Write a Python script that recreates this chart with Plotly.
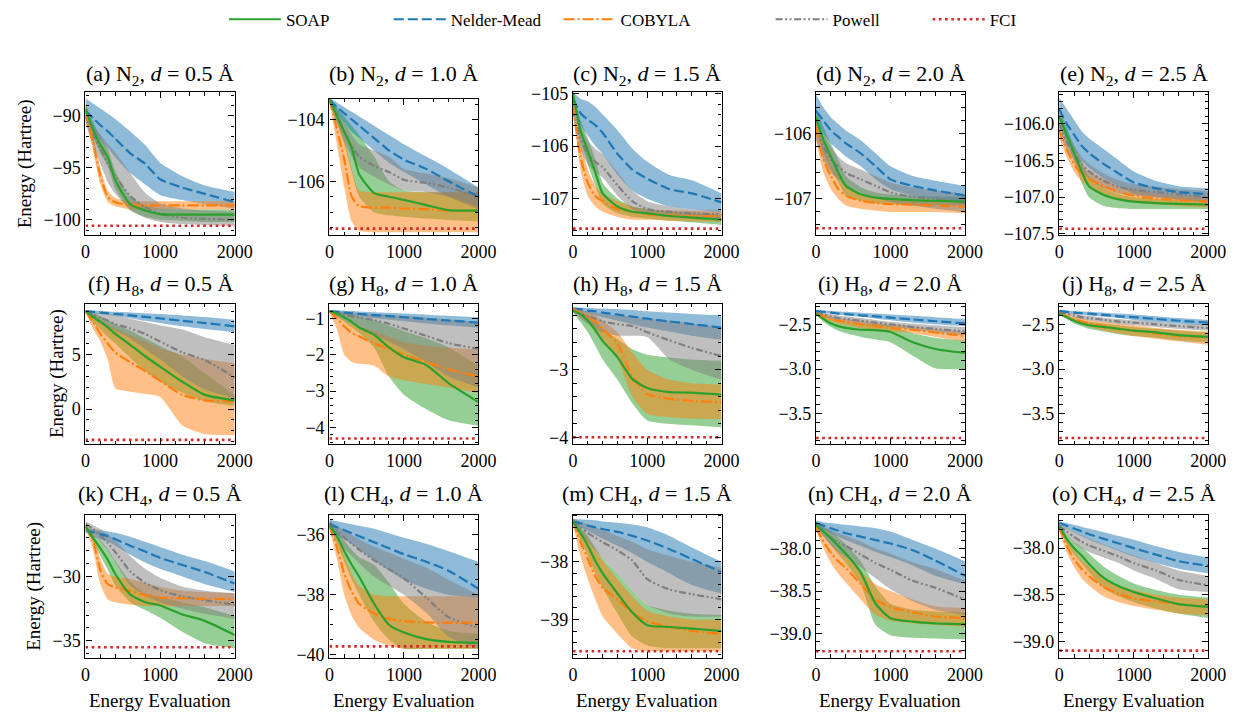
import plotly.graph_objects as go

# ---------------- data ----------------
X = [0, 100, 200, 300, 400, 600, 800, 1000, 1300, 1600, 2000]
XTICKS = [0, 1000, 2000]
METHODS = ["SOAP", "Nelder-Mead", "COBYLA", "Powell"]
LETTERS = list("abcdefghijklmno")
MOLECULES = ["N<sub>2</sub>"] * 5 + ["H<sub>8</sub>"] * 5 + ["CH<sub>4</sub>"] * 5
DISTANCES = ["0.5", "1.0", "1.5", "2.0", "2.5"] * 3

FCI = [-100.57, -107.53, -107.57, -107.45, -107.43,
       -2.83, -4.3, -3.995, -3.77, -3.77,
       -35.51, -39.72, -39.55, -39.21, -39.1]
YLO = [-101.5, -107.75, -107.7, -107.56, -107.52,
       -3.24, -4.46, -4.1, -3.84, -3.84,
       -36.35, -40.11, -39.67, -39.29, -39.18]
YHI = [-87.7, -103.33, -104.97, -105.36, -105.57,
       9.67, -0.6, -2.03, -2.27, -2.27,
       -25.18, -35.33, -37.18, -37.6, -37.64]
YSTEP = [5, 2, 1, 1, 0.5, 5, 1, 1, 0.5, 0.5, 5, 2, 1, 0.5, 0.5]

# (a) N2 0.5
A_SOAP = [-89.3, -91.3, -92.8, -94.0, -96.2, -98.5, -99.1, -99.45, -99.5, -99.5, -99.5]
A_SOAP_HI = [-88.8, -90.6, -92.0, -93.2, -95.3, -97.8, -98.6, -98.9, -99.0, -99.0, -99.0]
A_SOAP_LO = [-89.8, -92.0, -93.6, -94.9, -97.0, -99.1, -99.7, -100.0, -100.1, -100.2, -100.2]
A_NM = [-89.5, -90.2, -90.9, -91.5, -92.2, -93.6, -94.6, -96.1, -96.9, -97.5, -98.3]
A_NM_HI = [-88.3, -88.8, -89.3, -89.8, -90.3, -91.5, -92.8, -94.5, -95.8, -96.7, -97.3]
A_NM_LO = [-90.6, -91.4, -92.3, -93.1, -94.0, -95.5, -96.6, -97.6, -98.1, -98.5, -98.9]
A_COB = [-89.5, -92.5, -95.8, -97.8, -98.3, -98.6, -98.6, -98.6, -98.6, -98.6, -98.6]
A_COB_HI = [-88.7, -91.7, -95.0, -97.2, -97.9, -98.2, -98.2, -98.2, -98.2, -98.2, -98.2]
A_COB_LO = [-90.3, -93.3, -96.6, -98.3, -98.7, -99.0, -99.0, -99.0, -99.0, -99.0, -99.0]
A_POW = [-90.0, -91.8, -93.2, -94.6, -95.8, -97.7, -98.8, -99.4, -99.8, -99.9, -100.0]
A_POW_HI = [-89.3, -90.8, -91.8, -92.7, -93.5, -95.5, -97.4, -98.4, -98.9, -99.1, -99.2]
A_POW_LO = [-90.7, -92.8, -94.6, -96.4, -97.5, -99.0, -99.8, -100.2, -100.4, -100.5, -100.6]

# (b) N2 1.0
B_SOAP = [-103.35, -103.87, -104.4, -104.93, -105.77, -106.38, -106.5, -106.6, -106.77, -106.93, -106.95]
B_SOAP_HI = [-103.3, -103.6, -103.9, -104.2, -104.5, -105.2, -106.0, -106.3, -106.35, -106.35, -106.35]
B_SOAP_LO = [-103.4, -104.1, -104.8, -105.7, -106.5, -107.0, -107.1, -107.15, -107.2, -107.25, -107.3]
B_NM = [-103.35, -103.6, -103.8, -104.0, -104.2, -104.6, -105.0, -105.3, -105.6, -106.0, -106.5]
B_NM_HI = [-103.3, -103.45, -103.6, -103.75, -103.9, -104.2, -104.5, -104.8, -105.2, -105.6, -106.2]
B_NM_LO = [-103.45, -103.8, -104.1, -104.4, -104.6, -105.0, -105.4, -105.7, -106.1, -106.5, -106.9]
B_COB = [-103.35, -104.3, -105.3, -106.5, -106.8, -106.85, -106.85, -106.88, -106.9, -106.95, -106.97]
B_COB_HI = [-103.3, -103.9, -104.6, -105.6, -106.3, -106.35, -106.35, -106.35, -106.35, -106.35, -106.35]
B_COB_LO = [-103.4, -104.8, -106.2, -107.3, -107.6, -107.65, -107.65, -107.65, -107.65, -107.65, -107.65]
B_POW = [-103.4, -103.9, -104.4, -104.85, -105.2, -105.5, -105.7, -105.95, -106.05, -106.2, -106.5]
B_POW_HI = [-103.35, -103.7, -104.1, -104.5, -104.8, -105.0, -105.2, -105.6, -105.75, -105.9, -106.2]
B_POW_LO = [-103.45, -104.1, -104.7, -105.2, -105.55, -105.85, -106.1, -106.3, -106.35, -106.5, -106.8]

# (c) N2 1.5
C_SOAP = [-105.0, -105.7, -106.1, -106.5, -106.9, -107.15, -107.25, -107.28, -107.33, -107.36, -107.4]
C_SOAP_HI = [-104.98, -105.5, -105.85, -106.25, -106.7, -107.0, -107.15, -107.2, -107.25, -107.28, -107.3]
C_SOAP_LO = [-105.05, -105.9, -106.35, -106.75, -107.1, -107.28, -107.35, -107.38, -107.42, -107.45, -107.5]
C_NM = [-105.1, -105.37, -105.5, -105.6, -105.75, -106.15, -106.45, -106.62, -106.82, -106.9, -107.07]
C_NM_HI = [-104.97, -105.1, -105.15, -105.25, -105.4, -105.7, -106.05, -106.3, -106.55, -106.65, -106.9]
C_NM_LO = [-105.25, -105.6, -105.8, -106.0, -106.15, -106.55, -106.85, -107.0, -107.15, -107.2, -107.25]
C_COB = [-105.2, -106.2, -106.7, -106.95, -107.05, -107.2, -107.25, -107.3, -107.32, -107.33, -107.33]
C_COB_HI = [-105.1, -105.9, -106.45, -106.75, -106.9, -107.05, -107.15, -107.2, -107.22, -107.23, -107.25]
C_COB_LO = [-105.3, -106.45, -106.95, -107.15, -107.25, -107.35, -107.4, -107.4, -107.42, -107.43, -107.44]
C_POW = [-105.3, -105.85, -106.15, -106.3, -106.4, -106.75, -107.05, -107.2, -107.25, -107.28, -107.3]
C_POW_HI = [-105.1, -105.6, -105.9, -106.05, -106.15, -106.5, -106.85, -107.05, -107.15, -107.2, -107.22]
C_POW_LO = [-105.45, -106.05, -106.35, -106.5, -106.6, -106.95, -107.2, -107.3, -107.35, -107.38, -107.4]

# (d) N2 2.0
D_SOAP = [-105.75, -106.1, -106.35, -106.6, -106.8, -106.93, -106.98, -107.0, -107.02, -107.03, -107.04]
D_SOAP_HI = [-105.6, -105.9, -106.15, -106.4, -106.65, -106.82, -106.9, -106.93, -106.95, -106.96, -106.97]
D_SOAP_LO = [-105.9, -106.3, -106.55, -106.75, -106.95, -107.03, -107.07, -107.08, -107.1, -107.1, -107.1]
D_NM = [-105.65, -105.8, -105.95, -106.05, -106.15, -106.3, -106.5, -106.7, -106.8, -106.87, -106.95]
D_NM_HI = [-105.4, -105.6, -105.75, -105.85, -105.95, -106.1, -106.3, -106.5, -106.65, -106.72, -106.8]
D_NM_LO = [-105.85, -106.0, -106.15, -106.25, -106.35, -106.5, -106.7, -106.85, -106.95, -107.0, -107.08]
D_COB = [-105.9, -106.4, -106.65, -106.85, -106.95, -107.03, -107.06, -107.08, -107.09, -107.1, -107.12]
D_COB_HI = [-105.7, -106.2, -106.45, -106.65, -106.8, -106.92, -106.98, -107.0, -107.02, -107.03, -107.05]
D_COB_LO = [-106.1, -106.6, -106.85, -107.0, -107.1, -107.15, -107.18, -107.2, -107.2, -107.2, -107.22]
D_POW = [-105.95, -106.2, -106.4, -106.5, -106.6, -106.7, -106.8, -106.9, -106.97, -107.0, -107.05]
D_POW_HI = [-105.8, -106.0, -106.2, -106.35, -106.45, -106.55, -106.65, -106.75, -106.83, -106.87, -106.92]
D_POW_LO = [-106.1, -106.4, -106.6, -106.7, -106.8, -106.9, -106.98, -107.05, -107.1, -107.15, -107.2]

# (e) N2 2.5
E_SOAP = [-105.9, -106.15, -106.4, -106.65, -106.85, -106.97, -107.03, -107.06, -107.08, -107.09, -107.1]
E_SOAP_HI = [-105.8, -106.05, -106.3, -106.5, -106.72, -106.88, -106.96, -107.0, -107.02, -107.03, -107.04]
E_SOAP_LO = [-106.0, -106.25, -106.5, -106.8, -107.0, -107.12, -107.15, -107.16, -107.16, -107.16, -107.16]
E_NM = [-105.8, -106.0, -106.15, -106.3, -106.4, -106.55, -106.68, -106.8, -106.88, -106.93, -106.96]
E_NM_HI = [-105.65, -105.8, -105.95, -106.1, -106.2, -106.35, -106.5, -106.65, -106.78, -106.85, -106.88]
E_NM_LO = [-105.95, -106.2, -106.35, -106.5, -106.6, -106.75, -106.85, -106.95, -107.0, -107.03, -107.05]
E_COB = [-106.1, -106.35, -106.55, -106.68, -106.75, -106.85, -106.93, -106.98, -107.02, -107.04, -107.06]
E_COB_HI = [-106.0, -106.25, -106.45, -106.58, -106.65, -106.75, -106.85, -106.9, -106.95, -106.98, -107.0]
E_COB_LO = [-106.2, -106.45, -106.65, -106.78, -106.85, -106.95, -107.02, -107.07, -107.1, -107.12, -107.14]
E_POW = [-106.0, -106.25, -106.4, -106.55, -106.65, -106.78, -106.86, -106.9, -106.93, -106.96, -107.0]
E_POW_HI = [-105.9, -106.15, -106.3, -106.45, -106.55, -106.68, -106.77, -106.82, -106.86, -106.89, -106.92]
E_POW_LO = [-106.1, -106.35, -106.5, -106.65, -106.75, -106.88, -106.95, -106.98, -107.0, -107.03, -107.06]

# (f) H8 0.5
F_SOAP = [9.0, 8.46, 8.0, 7.5, 6.9, 5.9, 4.85, 3.9, 2.5, 1.3, 0.8]
F_SOAP_HI = [9.1, 8.8, 8.5, 8.2, 7.8, 7.2, 6.5, 5.8, 4.8, 3.3, 1.3]
F_SOAP_LO = [8.9, 8.0, 7.3, 6.6, 6.0, 4.7, 3.5, 2.5, 1.5, 0.7, 0.3]
F_NM = [9.0, 8.93, 8.86, 8.8, 8.73, 8.6, 8.46, 8.32, 8.1, 7.9, 7.6]
F_NM_HI = [9.1, 9.05, 9.0, 8.97, 8.93, 8.87, 8.8, 8.72, 8.6, 8.45, 8.2]
F_NM_LO = [8.9, 8.8, 8.72, 8.63, 8.55, 8.35, 8.1, 7.9, 7.6, 7.35, 7.05]
F_COB = [9.0, 8.0, 6.9, 6.0, 5.2, 4.3, 3.5, 2.6, 1.3, 0.8, 0.7]
F_COB_HI = [9.1, 8.7, 8.2, 7.8, 7.4, 6.8, 6.2, 5.6, 5.0, 4.6, 4.2]
F_COB_LO = [8.9, 7.4, 6.2, 4.5, 1.9, 1.6, 1.4, 1.1, -1.5, -2.3, -2.4]
F_POW = [8.9, 8.7, 8.4, 8.1, 7.8, 7.4, 6.9, 6.2, 5.2, 4.5, 2.9]
F_POW_HI = [9.0, 8.9, 8.8, 8.7, 8.6, 8.3, 8.0, 7.7, 7.3, 6.6, 5.9]
F_POW_LO = [8.8, 8.4, 8.0, 7.6, 7.2, 6.5, 5.5, 4.6, 3.0, 1.8, 1.0]

# (g) H8 1.0
G_SOAP = [-0.8, -0.87, -0.97, -1.1, -1.25, -1.45, -1.8, -2.07, -2.28, -2.78, -3.3]
G_SOAP_HI = [-0.78, -0.82, -0.86, -0.9, -0.95, -1.05, -1.2, -1.35, -1.55, -1.8, -2.3]
G_SOAP_LO = [-0.82, -0.95, -1.1, -1.25, -1.4, -1.8, -2.6, -3.1, -3.5, -3.8, -3.95]
G_NM = [-0.8, -0.82, -0.84, -0.86, -0.88, -0.91, -0.94, -0.97, -1.02, -1.06, -1.12]
G_NM_HI = [-0.77, -0.78, -0.79, -0.8, -0.81, -0.83, -0.85, -0.87, -0.9, -0.93, -0.97]
G_NM_LO = [-0.83, -0.86, -0.89, -0.92, -0.95, -1.0, -1.04, -1.08, -1.14, -1.19, -1.26]
G_COB = [-0.8, -1.0, -1.22, -1.4, -1.5, -1.68, -1.85, -2.0, -2.2, -2.4, -2.6]
G_COB_HI = [-0.78, -0.9, -1.05, -1.15, -1.22, -1.35, -1.5, -1.65, -1.75, -1.8, -1.85]
G_COB_LO = [-0.82, -1.3, -2.0, -2.2, -2.25, -2.3, -2.6, -2.7, -2.8, -2.9, -3.05]
G_POW = [-0.8, -0.85, -0.9, -0.94, -0.98, -1.05, -1.15, -1.28, -1.48, -1.68, -1.84]
G_POW_HI = [-0.78, -0.8, -0.82, -0.84, -0.86, -0.88, -0.9, -0.93, -0.98, -1.03, -1.1]
G_POW_LO = [-0.82, -0.95, -1.05, -1.15, -1.25, -1.45, -1.65, -1.85, -2.2, -2.6, -2.9]

# (h) H8 1.5
H_SOAP = [-2.13, -2.18, -2.28, -2.42, -2.58, -2.82, -3.14, -3.27, -3.33, -3.34, -3.37]
H_SOAP_HI = [-2.1, -2.14, -2.2, -2.28, -2.4, -2.55, -2.7, -2.78, -2.82, -2.85, -2.87]
H_SOAP_LO = [-2.16, -2.3, -2.45, -2.65, -2.85, -3.15, -3.5, -3.75, -3.8, -3.82, -3.85]
H_NM = [-2.1, -2.11, -2.13, -2.14, -2.16, -2.19, -2.22, -2.25, -2.29, -2.33, -2.38]
H_NM_HI = [-2.08, -2.085, -2.09, -2.1, -2.1, -2.11, -2.12, -2.14, -2.16, -2.18, -2.2]
H_NM_LO = [-2.12, -2.14, -2.17, -2.2, -2.23, -2.28, -2.33, -2.38, -2.44, -2.5, -2.56]
H_COB = [-2.1, -2.17, -2.23, -2.29, -2.4, -2.62, -3.1, -3.36, -3.43, -3.46, -3.48]
H_COB_HI = [-2.08, -2.12, -2.16, -2.2, -2.28, -2.45, -2.75, -3.0, -3.15, -3.2, -3.22]
H_COB_LO = [-2.12, -2.22, -2.3, -2.4, -2.55, -2.85, -3.4, -3.65, -3.7, -3.72, -3.73]
H_POW = [-2.13, -2.17, -2.21, -2.25, -2.29, -2.33, -2.36, -2.45, -2.57, -2.68, -2.8]
H_POW_HI = [-2.1, -2.12, -2.14, -2.16, -2.18, -2.2, -2.22, -2.25, -2.28, -2.32, -2.38]
H_POW_LO = [-2.16, -2.25, -2.33, -2.4, -2.45, -2.5, -2.5, -2.52, -2.85, -3.0, -3.15]

# (i) H8 2.0
I_SOAP = [-2.38, -2.44, -2.49, -2.52, -2.54, -2.56, -2.565, -2.585, -2.7, -2.775, -2.82]
I_SOAP_HI = [-2.37, -2.4, -2.43, -2.45, -2.47, -2.49, -2.5, -2.52, -2.6, -2.65, -2.68]
I_SOAP_LO = [-2.39, -2.47, -2.53, -2.57, -2.6, -2.64, -2.67, -2.7, -2.85, -2.99, -3.0]
I_NM = [-2.35, -2.36, -2.37, -2.38, -2.385, -2.4, -2.41, -2.425, -2.445, -2.465, -2.49]
I_NM_HI = [-2.34, -2.345, -2.35, -2.355, -2.36, -2.37, -2.38, -2.39, -2.405, -2.42, -2.44]
I_NM_LO = [-2.36, -2.37, -2.38, -2.39, -2.4, -2.415, -2.435, -2.455, -2.48, -2.5, -2.52]
I_COB = [-2.38, -2.41, -2.44, -2.46, -2.47, -2.5, -2.52, -2.54, -2.56, -2.59, -2.63]
I_COB_HI = [-2.37, -2.39, -2.41, -2.43, -2.44, -2.46, -2.48, -2.5, -2.52, -2.55, -2.58]
I_COB_LO = [-2.39, -2.43, -2.47, -2.49, -2.51, -2.54, -2.56, -2.58, -2.6, -2.64, -2.69]
I_POW = [-2.37, -2.39, -2.41, -2.43, -2.44, -2.46, -2.48, -2.5, -2.53, -2.55, -2.58]
I_POW_HI = [-2.36, -2.37, -2.385, -2.4, -2.41, -2.43, -2.45, -2.47, -2.49, -2.51, -2.53]
I_POW_LO = [-2.38, -2.41, -2.435, -2.455, -2.47, -2.49, -2.51, -2.53, -2.56, -2.59, -2.62]

# (j) H8 2.5
J_SOAP = [-2.38, -2.42, -2.46, -2.49, -2.51, -2.53, -2.55, -2.57, -2.59, -2.62, -2.64]
J_SOAP_HI = [-2.37, -2.4, -2.43, -2.45, -2.47, -2.49, -2.51, -2.53, -2.55, -2.57, -2.59]
J_SOAP_LO = [-2.39, -2.44, -2.49, -2.52, -2.55, -2.58, -2.61, -2.63, -2.65, -2.68, -2.7]
J_NM = [-2.35, -2.36, -2.37, -2.375, -2.38, -2.395, -2.41, -2.42, -2.44, -2.46, -2.48]
J_NM_HI = [-2.34, -2.345, -2.35, -2.355, -2.36, -2.37, -2.38, -2.39, -2.41, -2.43, -2.45]
J_NM_LO = [-2.36, -2.37, -2.38, -2.39, -2.4, -2.415, -2.43, -2.45, -2.47, -2.49, -2.51]
J_COB = [-2.38, -2.41, -2.44, -2.47, -2.49, -2.52, -2.55, -2.57, -2.6, -2.63, -2.65]
J_COB_HI = [-2.37, -2.39, -2.41, -2.43, -2.45, -2.47, -2.49, -2.51, -2.54, -2.56, -2.58]
J_COB_LO = [-2.39, -2.43, -2.47, -2.5, -2.53, -2.57, -2.6, -2.63, -2.66, -2.69, -2.73]
J_POW = [-2.36, -2.38, -2.4, -2.42, -2.43, -2.45, -2.47, -2.48, -2.5, -2.52, -2.54]
J_POW_HI = [-2.35, -2.365, -2.38, -2.395, -2.405, -2.425, -2.44, -2.455, -2.47, -2.49, -2.5]
J_POW_LO = [-2.37, -2.39, -2.42, -2.44, -2.455, -2.475, -2.495, -2.51, -2.53, -2.55, -2.57]

# (k) CH4 0.5
K_SOAP = [-26.1, -27.0, -27.8, -28.7, -29.8, -31.4, -32.0, -32.25, -32.95, -33.45, -34.55]
K_SOAP_HI = [-26.0, -26.7, -27.2, -27.9, -28.8, -30.4, -31.3, -31.6, -32.0, -32.4, -33.1]
K_SOAP_LO = [-26.2, -27.3, -28.4, -29.5, -30.7, -32.0, -32.6, -33.2, -34.3, -35.2, -35.6]
K_NM = [-26.4, -26.55, -26.7, -26.85, -27.1, -27.6, -28.05, -28.55, -29.1, -29.65, -30.55]
K_NM_HI = [-26.2, -26.3, -26.4, -26.5, -26.6, -26.9, -27.3, -27.7, -28.3, -28.8, -29.6]
K_NM_LO = [-26.6, -26.9, -27.1, -27.3, -27.6, -28.3, -28.9, -29.4, -30.0, -30.6, -31.2]
K_COB = [-26.1, -27.2, -29.5, -30.6, -30.85, -31.1, -31.45, -31.65, -31.7, -31.73, -31.75]
K_COB_HI = [-26.0, -26.6, -28.6, -29.8, -30.0, -30.2, -30.5, -30.8, -31.1, -31.2, -31.3]
K_COB_LO = [-26.2, -27.9, -30.6, -31.8, -32.0, -32.2, -32.3, -32.3, -32.3, -32.3, -32.3]
K_POW = [-25.9, -26.3, -26.8, -27.4, -28.1, -29.6, -30.5, -31.05, -31.55, -31.85, -32.2]
K_POW_HI = [-25.7, -26.0, -26.3, -26.7, -27.2, -28.4, -29.4, -30.1, -30.8, -31.1, -31.3]
K_POW_LO = [-26.1, -26.6, -27.3, -28.0, -28.9, -30.7, -31.5, -32.0, -32.5, -32.9, -33.3]

# (l) CH4 1.0
L_SOAP = [-35.7, -36.05, -36.55, -37.0, -37.4, -38.3, -39.0, -39.26, -39.48, -39.57, -39.6]
L_SOAP_HI = [-35.6, -35.85, -36.2, -36.5, -36.75, -37.0, -37.6, -38.3, -38.9, -39.2, -39.3]
L_SOAP_LO = [-35.8, -36.3, -36.9, -37.5, -38.0, -38.9, -39.5, -39.8, -39.8, -39.8, -39.8]
L_NM = [-35.65, -35.75, -35.85, -35.95, -36.05, -36.25, -36.45, -36.65, -36.9, -37.2, -37.8]
L_NM_HI = [-35.5, -35.55, -35.6, -35.65, -35.7, -35.8, -35.95, -36.1, -36.3, -36.55, -36.9]
L_NM_LO = [-35.8, -36.0, -36.15, -36.3, -36.5, -36.85, -37.2, -37.5, -37.8, -38.0, -38.1]
L_COB = [-35.7, -36.4, -37.3, -37.9, -38.3, -38.62, -38.8, -38.88, -38.92, -38.93, -38.93]
L_COB_HI = [-35.6, -36.0, -36.7, -37.3, -37.7, -38.0, -38.05, -38.05, -38.05, -38.05, -38.05]
L_COB_LO = [-35.8, -36.8, -38.0, -38.7, -39.1, -39.5, -39.7, -39.8, -39.8, -39.8, -39.8]
L_POW = [-35.6, -35.85, -36.1, -36.3, -36.5, -36.85, -37.15, -37.45, -38.1, -38.75, -39.1]
L_POW_HI = [-35.5, -35.7, -35.85, -36.0, -36.15, -36.4, -36.6, -36.8, -37.1, -37.5, -38.0]
L_POW_LO = [-35.7, -36.1, -36.45, -36.7, -36.95, -37.4, -37.7, -38.0, -38.6, -39.4, -39.8]

# (m) CH4 1.5
M_SOAP = [-37.3, -37.5, -37.72, -37.98, -38.2, -38.55, -38.88, -39.1, -39.13, -39.16, -39.2]
M_SOAP_HI = [-37.25, -37.4, -37.55, -37.75, -37.95, -38.2, -38.5, -38.75, -38.85, -38.9, -38.92]
M_SOAP_LO = [-37.35, -37.6, -37.9, -38.2, -38.45, -38.9, -39.3, -39.45, -39.5, -39.5, -39.5]
M_NM = [-37.3, -37.33, -37.37, -37.4, -37.43, -37.48, -37.55, -37.63, -37.78, -37.95, -38.18]
M_NM_HI = [-37.25, -37.26, -37.27, -37.28, -37.3, -37.32, -37.35, -37.4, -37.55, -37.75, -38.0]
M_NM_LO = [-37.35, -37.4, -37.47, -37.53, -37.6, -37.72, -37.85, -38.0, -38.2, -38.4, -38.55]
M_COB = [-37.3, -37.65, -37.95, -38.25, -38.45, -38.65, -38.88, -39.03, -39.13, -39.2, -39.25]
M_COB_HI = [-37.25, -37.45, -37.6, -37.8, -37.98, -38.3, -38.6, -38.85, -38.95, -39.0, -39.0]
M_COB_LO = [-37.35, -37.9, -38.3, -38.65, -38.95, -39.25, -39.5, -39.55, -39.55, -39.55, -39.55]
M_POW = [-37.3, -37.4, -37.5, -37.58, -37.66, -37.8, -37.98, -38.3, -38.48, -38.56, -38.65]
M_POW_HI = [-37.25, -37.3, -37.35, -37.4, -37.45, -37.55, -37.65, -37.78, -37.9, -38.0, -38.1]
M_POW_LO = [-37.35, -37.5, -37.65, -37.8, -37.95, -38.2, -38.5, -38.75, -38.9, -38.95, -38.95]

# (n) CH4 2.0
N_SOAP = [-37.72, -37.8, -37.88, -37.97, -38.06, -38.28, -38.65, -38.82, -38.86, -38.88, -38.89]
N_SOAP_HI = [-37.7, -37.75, -37.8, -37.87, -37.95, -38.15, -38.45, -38.65, -38.72, -38.74, -38.75]
N_SOAP_LO = [-37.74, -37.85, -37.96, -38.07, -38.17, -38.42, -38.9, -39.02, -39.05, -39.06, -39.07]
N_NM = [-37.7, -37.73, -37.76, -37.79, -37.82, -37.86, -37.9, -37.94, -38.02, -38.14, -38.32]
N_NM_HI = [-37.67, -37.69, -37.7, -37.71, -37.72, -37.74, -37.76, -37.8, -37.9, -38.0, -38.15]
N_NM_LO = [-37.73, -37.77, -37.82, -37.86, -37.9, -37.97, -38.04, -38.1, -38.2, -38.32, -38.42]
N_COB = [-37.75, -37.92, -38.05, -38.15, -38.23, -38.42, -38.6, -38.69, -38.75, -38.8, -38.82]
N_COB_HI = [-37.72, -37.83, -37.93, -38.02, -38.1, -38.27, -38.42, -38.5, -38.6, -38.68, -38.7]
N_COB_LO = [-37.78, -38.0, -38.17, -38.3, -38.4, -38.6, -38.78, -38.85, -38.88, -38.9, -38.92]
N_POW = [-37.73, -37.8, -37.87, -37.93, -37.97, -38.07, -38.17, -38.25, -38.38, -38.46, -38.6]
N_POW_HI = [-37.7, -37.74, -37.78, -37.82, -37.85, -37.92, -38.0, -38.06, -38.16, -38.24, -38.38]
N_POW_LO = [-37.76, -37.86, -37.96, -38.04, -38.1, -38.22, -38.35, -38.48, -38.62, -38.72, -38.78]

# (o) CH4 2.5
O_SOAP = [-37.76, -37.9, -38.0, -38.08, -38.17, -38.32, -38.41, -38.47, -38.54, -38.6, -38.63]
O_SOAP_HI = [-37.74, -37.85, -37.93, -37.99, -38.06, -38.2, -38.3, -38.38, -38.45, -38.5, -38.53]
O_SOAP_LO = [-37.78, -37.95, -38.07, -38.16, -38.26, -38.43, -38.52, -38.58, -38.65, -38.7, -38.75]
O_NM = [-37.73, -37.76, -37.79, -37.82, -37.85, -37.9, -37.95, -38.0, -38.07, -38.14, -38.19]
O_NM_HI = [-37.71, -37.73, -37.75, -37.77, -37.79, -37.83, -37.87, -37.91, -37.98, -38.04, -38.1]
O_NM_LO = [-37.75, -37.79, -37.83, -37.87, -37.91, -37.97, -38.03, -38.09, -38.16, -38.22, -38.27]
O_COB = [-37.78, -37.97, -38.12, -38.22, -38.3, -38.42, -38.49, -38.54, -38.57, -38.6, -38.63]
O_COB_HI = [-37.75, -37.9, -38.03, -38.12, -38.2, -38.32, -38.4, -38.45, -38.5, -38.53, -38.55]
O_COB_LO = [-37.81, -38.04, -38.2, -38.32, -38.4, -38.52, -38.58, -38.62, -38.66, -38.7, -38.72]
O_POW = [-37.76, -37.82, -37.88, -37.93, -37.97, -38.03, -38.09, -38.16, -38.24, -38.34, -38.4]
O_POW_HI = [-37.74, -37.78, -37.82, -37.86, -37.9, -37.96, -38.02, -38.08, -38.16, -38.24, -38.3]
O_POW_LO = [-37.78, -37.86, -37.94, -38.0, -38.04, -38.1, -38.16, -38.24, -38.33, -38.44, -38.47]

g = globals()
PANELS = []
for L in "ABCDEFGHIJKLMNO":
    PANELS.append({
        "SOAP": (g[L + "_SOAP"], g[L + "_SOAP_LO"], g[L + "_SOAP_HI"]),
        "Nelder-Mead": (g[L + "_NM"], g[L + "_NM_LO"], g[L + "_NM_HI"]),
        "COBYLA": (g[L + "_COB"], g[L + "_COB_LO"], g[L + "_COB_HI"]),
        "Powell": (g[L + "_POW"], g[L + "_POW_LO"], g[L + "_POW_HI"]),
    })

# ---------------- style ----------------
FONT = "Liberation Serif"
W, H = 1246, 712
COLORS = {"SOAP": "#2ca02c", "Nelder-Mead": "#1f77b4", "COBYLA": "#ff7f0e", "Powell": "#7f7f7f"}
FILLS = {"SOAP": "rgba(44,160,44,0.5)", "Nelder-Mead": "rgba(31,119,180,0.5)",
         "COBYLA": "rgba(255,127,14,0.5)", "Powell": "rgba(127,127,127,0.5)"}
DASH = {"SOAP": "solid", "Nelder-Mead": "10px,4px", "COBYLA": "11px,3px,2px,3px",
        "Powell": "7px,2.5px,2px,2.5px,2px,2.5px"}
FCI_COLOR = "#d62728"
LINE_ORDER = ["Powell", "Nelder-Mead", "COBYLA", "SOAP"]
LEGEND_ORDER = ["SOAP", "Nelder-Mead", "COBYLA", "Powell", "FCI"]
LEGEND_PX = [223, 391, 564, 780, 940]
SMOOTH = 0.6

COL_X = [(82, 234), (330.5, 482.3), (578.7, 730), (826.3, 978), (1074, 1226)]
ROW_Y = [(86, 233), (303, 447), (519, 666)]
TITLE_Y = [69, 284, 499]
YLABEL_X = [20, 53, 30]


def fx(p):
    return p / W


def fy(p):
    return 1 - p / H


fig = go.Figure()
layout = dict(
    width=W, height=H, margin=dict(l=0, r=0, t=0, b=0),
    paper_bgcolor="white", plot_bgcolor="white",
    font=dict(family=FONT, size=17, color="black"),
    annotations=[], showlegend=True,
)

legend_names = ["legend", "legend2", "legend3", "legend4", "legend5"]
for k, name in enumerate(legend_names):
    layout[name] = dict(
        x=fx(LEGEND_PX[k]), y=fy(12), xanchor="left", yanchor="middle",
        orientation="h", bgcolor="rgba(0,0,0,0)", borderwidth=0,
        font=dict(family=FONT, size=17, color="black"), itemwidth=52,
    )

for i in range(15):
    r, c = divmod(i, 5)
    s = "" if i == 0 else str(i + 1)
    xa, ya = "x" + s, "y" + s
    x0, x1 = COL_X[c]
    y0, y1 = ROW_Y[r]
    if i == 1:
        y0 = 93
    data = PANELS[i]
    for m in METHODS:
        mean, lo, hi = data[m]
        fig.add_trace(go.Scatter(
            x=X, y=lo, mode="lines", line=dict(width=0, shape="spline", smoothing=SMOOTH),
            hoverinfo="skip", showlegend=False, xaxis=xa, yaxis=ya))
        fig.add_trace(go.Scatter(
            x=X, y=hi, mode="lines", fill="tonexty", fillcolor=FILLS[m],
            line=dict(width=0, shape="spline", smoothing=SMOOTH),
            hoverinfo="skip", showlegend=False, xaxis=xa, yaxis=ya))
    for m in LINE_ORDER:
        mean = data[m][0]
        fig.add_trace(go.Scatter(
            x=X, y=mean, mode="lines", name=m,
            line=dict(color=COLORS[m], width=2.2, dash=DASH[m], shape="spline", smoothing=SMOOTH),
            showlegend=(i == 0), legend=legend_names[LEGEND_ORDER.index(m)],
            xaxis=xa, yaxis=ya))
    fig.add_trace(go.Scatter(
        x=[X[0], X[-1]], y=[FCI[i], FCI[i]], mode="lines", name="FCI",
        line=dict(color=FCI_COLOR, width=2.6, dash="2.6px,3.6px"),
        showlegend=(i == 0), legend="legend5", xaxis=xa, yaxis=ya))

    step = YSTEP[i]
    minor = {5: 1, 2: 0.5, 1: 0.2, 0.5: 0.1}[step]
    common = dict(showline=True, linecolor="black", linewidth=1.4, mirror="allticks",
                  ticks="inside", ticklen=6, tickwidth=1.1, tickcolor="black",
                  showgrid=False, zeroline=False,
                  tickfont=dict(family=FONT, size=18, color="black"))
    layout["xaxis" + s] = dict(
        domain=[fx(x0), fx(x1)], anchor=ya, range=[X[0], X[-1]],
        tickvals=XTICKS,
        minor=dict(dtick=200, tick0=0, ticks="inside", ticklen=3.5, tickwidth=1, tickcolor="black"),
        **common)
    layout["yaxis" + s] = dict(
        domain=[fy(y1), fy(y0)], anchor=xa, range=[YLO[i], YHI[i]],
        tick0=0, dtick=step, tickformat=".1f" if step == 0.5 else "d",
        minor=dict(dtick=minor, tick0=0, ticks="inside", ticklen=3.5, tickwidth=1, tickcolor="black"),
        **common)

    title = "(%s) %s, <i>d</i> = %s Å" % (LETTERS[i], MOLECULES[i], DISTANCES[i])
    layout["annotations"].append(dict(
        text=title, x=fx((x0 + x1) / 2), y=fy(TITLE_Y[r]), xref="paper", yref="paper",
        xanchor="center", yanchor="middle", showarrow=False,
        font=dict(family=FONT, size=22, color="black")))
    if c == 0:
        layout["annotations"].append(dict(
            text="Energy (Hartree)", x=fx(YLABEL_X[r]), y=fy((ROW_Y[r][0] + ROW_Y[r][1]) / 2),
            xref="paper", yref="paper", xanchor="center", yanchor="middle",
            textangle=-90, showarrow=False, font=dict(family=FONT, size=19, color="black")))
    if r == 2:
        layout["annotations"].append(dict(
            text="Energy Evaluation", x=fx((x0 + x1) / 2), y=fy(709),
            xref="paper", yref="paper", xanchor="center", yanchor="middle",
            showarrow=False, font=dict(family=FONT, size=19, color="black")))

fig.update_layout(**layout)
fig.write_html("out.html")
